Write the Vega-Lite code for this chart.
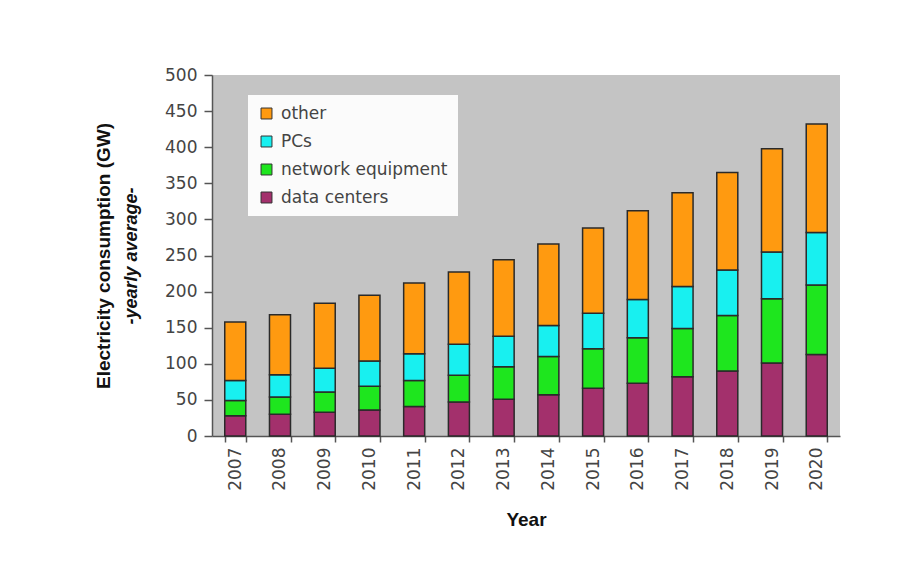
{
  "$schema": "https://vega.github.io/schema/vega-lite/v6.json",
  "width": 628,
  "height": 361,
  "autosize": {"type": "none"},
  "padding": {"left": 212, "top": 75, "right": 79, "bottom": 147},
  "background": "#ffffff",
  "config": {
    "view": {"fill": "#c4c4c4", "stroke": null},
    "font": "DejaVu Sans"
  },
  "data": {
    "values": [
      {"year": "2007", "category": "data centers", "value": 28},
      {"year": "2007", "category": "network equipment", "value": 21},
      {"year": "2007", "category": "PCs", "value": 28},
      {"year": "2007", "category": "other", "value": 81},
      {"year": "2008", "category": "data centers", "value": 30},
      {"year": "2008", "category": "network equipment", "value": 24},
      {"year": "2008", "category": "PCs", "value": 31},
      {"year": "2008", "category": "other", "value": 83},
      {"year": "2009", "category": "data centers", "value": 33},
      {"year": "2009", "category": "network equipment", "value": 28},
      {"year": "2009", "category": "PCs", "value": 33},
      {"year": "2009", "category": "other", "value": 90},
      {"year": "2010", "category": "data centers", "value": 36},
      {"year": "2010", "category": "network equipment", "value": 33},
      {"year": "2010", "category": "PCs", "value": 35},
      {"year": "2010", "category": "other", "value": 91},
      {"year": "2011", "category": "data centers", "value": 41},
      {"year": "2011", "category": "network equipment", "value": 36},
      {"year": "2011", "category": "PCs", "value": 37},
      {"year": "2011", "category": "other", "value": 98},
      {"year": "2012", "category": "data centers", "value": 47},
      {"year": "2012", "category": "network equipment", "value": 37},
      {"year": "2012", "category": "PCs", "value": 43},
      {"year": "2012", "category": "other", "value": 100},
      {"year": "2013", "category": "data centers", "value": 51},
      {"year": "2013", "category": "network equipment", "value": 45},
      {"year": "2013", "category": "PCs", "value": 42},
      {"year": "2013", "category": "other", "value": 106},
      {"year": "2014", "category": "data centers", "value": 57},
      {"year": "2014", "category": "network equipment", "value": 53},
      {"year": "2014", "category": "PCs", "value": 43},
      {"year": "2014", "category": "other", "value": 113},
      {"year": "2015", "category": "data centers", "value": 66},
      {"year": "2015", "category": "network equipment", "value": 55},
      {"year": "2015", "category": "PCs", "value": 49},
      {"year": "2015", "category": "other", "value": 118},
      {"year": "2016", "category": "data centers", "value": 73},
      {"year": "2016", "category": "network equipment", "value": 63},
      {"year": "2016", "category": "PCs", "value": 53},
      {"year": "2016", "category": "other", "value": 123},
      {"year": "2017", "category": "data centers", "value": 82},
      {"year": "2017", "category": "network equipment", "value": 67},
      {"year": "2017", "category": "PCs", "value": 58},
      {"year": "2017", "category": "other", "value": 130},
      {"year": "2018", "category": "data centers", "value": 90},
      {"year": "2018", "category": "network equipment", "value": 77},
      {"year": "2018", "category": "PCs", "value": 63},
      {"year": "2018", "category": "other", "value": 135},
      {"year": "2019", "category": "data centers", "value": 101},
      {"year": "2019", "category": "network equipment", "value": 89},
      {"year": "2019", "category": "PCs", "value": 65},
      {"year": "2019", "category": "other", "value": 143},
      {"year": "2020", "category": "data centers", "value": 113},
      {"year": "2020", "category": "network equipment", "value": 96},
      {"year": "2020", "category": "PCs", "value": 73},
      {"year": "2020", "category": "other", "value": 150}
    ]
  },
  "layer": [
    {
      "transform": [
        {"calculate": "indexof(['data centers','network equipment','PCs','other'], datum.category)", "as": "stackorder"}
      ],
      "mark": {"type": "bar", "stroke": "#2a2a2a", "strokeWidth": 1.5},
      "encoding": {
        "x": {
          "field": "year",
          "type": "ordinal",
          "scale": {"paddingInner": 0.53, "paddingOuter": 0.285},
          "axis": {
            "title": "Year",
            "titleFont": "Liberation Sans",
            "titleFontSize": 19,
            "titleFontWeight": "bold",
            "titleColor": "#111",
            "titlePadding": 20,
            "labelAngle": -90,
            "labelFont": "DejaVu Sans",
            "labelFontSize": 17,
            "labelColor": "#444",
            "labelPadding": 5,
            "tickBand": "extent",
            "tickSize": 6,
            "tickColor": "#555",
            "tickWidth": 1.5,
            "domainColor": "#555",
            "domainWidth": 1.5
          }
        },
        "y": {
          "aggregate": "sum",
          "field": "value",
          "type": "quantitative",
          "stack": "zero",
          "scale": {"domain": [0, 500], "nice": false},
          "axis": {
            "title": "-yearly average-",
            "titleFont": "Liberation Sans",
            "titleFontSize": 18,
            "titleFontWeight": "bold",
            "titleFontStyle": "italic",
            "titleColor": "#111",
            "titlePadding": 24,
            "values": [0, 50, 100, 150, 200, 250, 300, 350, 400, 450, 500],
            "grid": false,
            "labelFont": "DejaVu Sans",
            "labelFontSize": 17,
            "labelColor": "#444",
            "labelPadding": 7,
            "tickSize": 8,
            "tickColor": "#555",
            "tickWidth": 1.5,
            "domainColor": "#555",
            "domainWidth": 1.5
          }
        },
        "color": {
          "field": "category",
          "type": "nominal",
          "scale": {
            "domain": ["other", "PCs", "network equipment", "data centers"],
            "range": ["#FF9A10", "#18F0F0", "#1EE61E", "#A3306C"]
          },
          "legend": {
            "title": null,
            "orient": "none",
            "legendX": 36,
            "legendY": 20,
            "fillColor": "rgba(255,255,255,0.92)",
            "padding": 10,
            "symbolType": "square",
            "symbolSize": 120,
            "symbolStrokeColor": "#333",
            "symbolStrokeWidth": 1,
            "symbolOpacity": 1,
            "labelFont": "DejaVu Sans",
            "labelFontSize": 17,
            "labelColor": "#444",
            "labelOffset": 6,
            "labelLimit": 400,
            "rowPadding": 10
          }
        },
        "order": {"field": "stackorder", "type": "quantitative"}
      }
    },
    {
      "mark": {"type": "rule", "opacity": 0},
      "encoding": {
        "y": {
          "datum": 0,
          "type": "quantitative",
          "axis": {
            "orient": "left",
            "title": "Electricity consumption (GW)",
            "titleFont": "Liberation Sans",
            "titleFontSize": 19,
            "titleFontWeight": "bold",
            "titleColor": "#111",
            "titlePadding": 99,
            "labels": false,
            "ticks": false,
            "domain": false,
            "grid": false
          }
        }
      }
    }
  ],
  "resolve": {"axis": {"y": "independent"}}
}
